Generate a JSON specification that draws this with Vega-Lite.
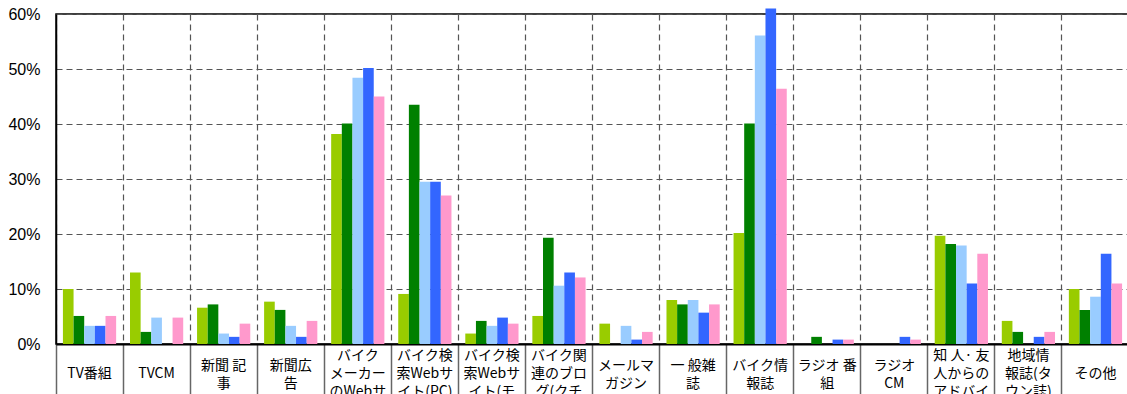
{
  "$schema": "https://vega.github.io/schema/vega-lite/v6.json",
  "width": 1073,
  "height": 330,
  "autosize": {"type": "none"},
  "padding": {"left": 56, "top": 14, "right": 0, "bottom": 50},
  "background": "white",
  "config": {"view": {"stroke": "black", "strokeWidth": 1.5}},
  "data": {"values": [
    {"category": "TV番組", "series": "系列1", "value": 10.0},
    {"category": "TV番組", "series": "系列2", "value": 5.1},
    {"category": "TV番組", "series": "系列3", "value": 3.3},
    {"category": "TV番組", "series": "系列4", "value": 3.3},
    {"category": "TV番組", "series": "系列5", "value": 5.1},
    {"category": "TVCM", "series": "系列1", "value": 13.0},
    {"category": "TVCM", "series": "系列2", "value": 2.2},
    {"category": "TVCM", "series": "系列3", "value": 4.8},
    {"category": "TVCM", "series": "系列4", "value": 0},
    {"category": "TVCM", "series": "系列5", "value": 4.8},
    {"category": "新聞 記\n事", "series": "系列1", "value": 6.6},
    {"category": "新聞 記\n事", "series": "系列2", "value": 7.2},
    {"category": "新聞 記\n事", "series": "系列3", "value": 1.9},
    {"category": "新聞 記\n事", "series": "系列4", "value": 1.3},
    {"category": "新聞 記\n事", "series": "系列5", "value": 3.7},
    {"category": "新聞広\n告", "series": "系列1", "value": 7.7},
    {"category": "新聞広\n告", "series": "系列2", "value": 6.2},
    {"category": "新聞広\n告", "series": "系列3", "value": 3.3},
    {"category": "新聞広\n告", "series": "系列4", "value": 1.3},
    {"category": "新聞広\n告", "series": "系列5", "value": 4.2},
    {"category": "バイク\nメーカー\nのWebサ\nイト", "series": "系列1", "value": 38.2},
    {"category": "バイク\nメーカー\nのWebサ\nイト", "series": "系列2", "value": 40.1},
    {"category": "バイク\nメーカー\nのWebサ\nイト", "series": "系列3", "value": 48.4},
    {"category": "バイク\nメーカー\nのWebサ\nイト", "series": "系列4", "value": 50.2},
    {"category": "バイク\nメーカー\nのWebサ\nイト", "series": "系列5", "value": 45.0},
    {"category": "バイク検\n索Webサ\nイト(PC)", "series": "系列1", "value": 9.1},
    {"category": "バイク検\n索Webサ\nイト(PC)", "series": "系列2", "value": 43.5},
    {"category": "バイク検\n索Webサ\nイト(PC)", "series": "系列3", "value": 29.5},
    {"category": "バイク検\n索Webサ\nイト(PC)", "series": "系列4", "value": 29.5},
    {"category": "バイク検\n索Webサ\nイト(PC)", "series": "系列5", "value": 27.0},
    {"category": "バイク検\n索Webサ\nイト(モ\nバイル)", "series": "系列1", "value": 1.9},
    {"category": "バイク検\n索Webサ\nイト(モ\nバイル)", "series": "系列2", "value": 4.2},
    {"category": "バイク検\n索Webサ\nイト(モ\nバイル)", "series": "系列3", "value": 3.3},
    {"category": "バイク検\n索Webサ\nイト(モ\nバイル)", "series": "系列4", "value": 4.8},
    {"category": "バイク検\n索Webサ\nイト(モ\nバイル)", "series": "系列5", "value": 3.7},
    {"category": "バイク関\n連のブロ\nグ(クチ\nコミ)", "series": "系列1", "value": 5.1},
    {"category": "バイク関\n連のブロ\nグ(クチ\nコミ)", "series": "系列2", "value": 19.3},
    {"category": "バイク関\n連のブロ\nグ(クチ\nコミ)", "series": "系列3", "value": 10.6},
    {"category": "バイク関\n連のブロ\nグ(クチ\nコミ)", "series": "系列4", "value": 13.0},
    {"category": "バイク関\n連のブロ\nグ(クチ\nコミ)", "series": "系列5", "value": 12.1},
    {"category": "メールマ\nガジン", "series": "系列1", "value": 3.7},
    {"category": "メールマ\nガジン", "series": "系列2", "value": 0},
    {"category": "メールマ\nガジン", "series": "系列3", "value": 3.3},
    {"category": "メールマ\nガジン", "series": "系列4", "value": 0.8},
    {"category": "メールマ\nガジン", "series": "系列5", "value": 2.2},
    {"category": "一 般雑\n誌", "series": "系列1", "value": 8.0},
    {"category": "一 般雑\n誌", "series": "系列2", "value": 7.2},
    {"category": "一 般雑\n誌", "series": "系列3", "value": 8.0},
    {"category": "一 般雑\n誌", "series": "系列4", "value": 5.7},
    {"category": "一 般雑\n誌", "series": "系列5", "value": 7.2},
    {"category": "バイク情\n報誌", "series": "系列1", "value": 20.2},
    {"category": "バイク情\n報誌", "series": "系列2", "value": 40.1},
    {"category": "バイク情\n報誌", "series": "系列3", "value": 56.1},
    {"category": "バイク情\n報誌", "series": "系列4", "value": 61.0},
    {"category": "バイク情\n報誌", "series": "系列5", "value": 46.4},
    {"category": "ラジオ 番\n組", "series": "系列1", "value": 0},
    {"category": "ラジオ 番\n組", "series": "系列2", "value": 1.3},
    {"category": "ラジオ 番\n組", "series": "系列3", "value": 0},
    {"category": "ラジオ 番\n組", "series": "系列4", "value": 0.8},
    {"category": "ラジオ 番\n組", "series": "系列5", "value": 0.8},
    {"category": "ラジオ\nCM", "series": "系列1", "value": 0},
    {"category": "ラジオ\nCM", "series": "系列2", "value": 0},
    {"category": "ラジオ\nCM", "series": "系列3", "value": 0},
    {"category": "ラジオ\nCM", "series": "系列4", "value": 1.3},
    {"category": "ラジオ\nCM", "series": "系列5", "value": 0.8},
    {"category": "知 人· 友\n人からの\nアドバイ\nス", "series": "系列1", "value": 19.7},
    {"category": "知 人· 友\n人からの\nアドバイ\nス", "series": "系列2", "value": 18.2},
    {"category": "知 人· 友\n人からの\nアドバイ\nス", "series": "系列3", "value": 17.9},
    {"category": "知 人· 友\n人からの\nアドバイ\nス", "series": "系列4", "value": 11.0},
    {"category": "知 人· 友\n人からの\nアドバイ\nス", "series": "系列5", "value": 16.4},
    {"category": "地域情\n報誌(タ\nウン誌)", "series": "系列1", "value": 4.2},
    {"category": "地域情\n報誌(タ\nウン誌)", "series": "系列2", "value": 2.2},
    {"category": "地域情\n報誌(タ\nウン誌)", "series": "系列3", "value": 0},
    {"category": "地域情\n報誌(タ\nウン誌)", "series": "系列4", "value": 1.3},
    {"category": "地域情\n報誌(タ\nウン誌)", "series": "系列5", "value": 2.2},
    {"category": "その他", "series": "系列1", "value": 10.0},
    {"category": "その他", "series": "系列2", "value": 6.2},
    {"category": "その他", "series": "系列3", "value": 8.6},
    {"category": "その他", "series": "系列4", "value": 16.4},
    {"category": "その他", "series": "系列5", "value": 11.0}
  ]},
  "mark": {"type": "bar"},
  "encoding": {
    "x": {
      "field": "category", "type": "nominal", "sort": null,
      "scale": {"paddingInner": 0, "paddingOuter": 0},
      "axis": {
        "title": null, "bandPosition": 0, "labelAngle": 0,
        "labelExpr": "split(datum.label, '\\n')",
        "labelFont": "Noto Sans CJK JP", "labelFontSize": 14, "labelLineHeight": 18,
        "labelColor": "black", "labelBaseline": "middle", "labelLimit": 0, "labelOverlap": false,
        "labelPadding": {"condition": [
          {"test": "length(split(datum.label, '\\n')) >= 3", "value": -49},
          {"test": "length(split(datum.label, '\\n')) == 2", "value": -39}
        ], "value": -31},
        "ticks": true, "tickSize": 60, "tickColor": "#666666", "tickWidth": 1.5,
        "domainColor": "black", "domainWidth": 2,
        "grid": true, "gridDash": [6, 4], "gridColor": "#555555", "gridWidth": 1.2
      }
    },
    "xOffset": {"field": "series", "type": "nominal", "scale": {"paddingOuter": 0.65, "paddingInner": 0}},
    "y": {
      "field": "value", "type": "quantitative",
      "scale": {"domain": [0, 60], "nice": false},
      "axis": {
        "title": null, "values": [0, 10, 20, 30, 40, 50, 60],
        "labelExpr": "datum.value + '%'",
        "grid": true, "gridDash": [6, 4], "gridColor": "#555555", "gridWidth": 1.2,
        "ticks": false, "labelPadding": 16,
        "labelFont": "Liberation Sans", "labelFontSize": 16, "labelColor": "black",
        "domainColor": "black", "domainWidth": 1.5
      }
    },
    "color": {
      "field": "series", "type": "nominal",
      "scale": {"domain": ["系列1", "系列2", "系列3", "系列4", "系列5"], "range": ["#99CC00", "#008000", "#99CCFF", "#3366FF", "#FF99CC"]},
      "legend": null
    }
  }
}
